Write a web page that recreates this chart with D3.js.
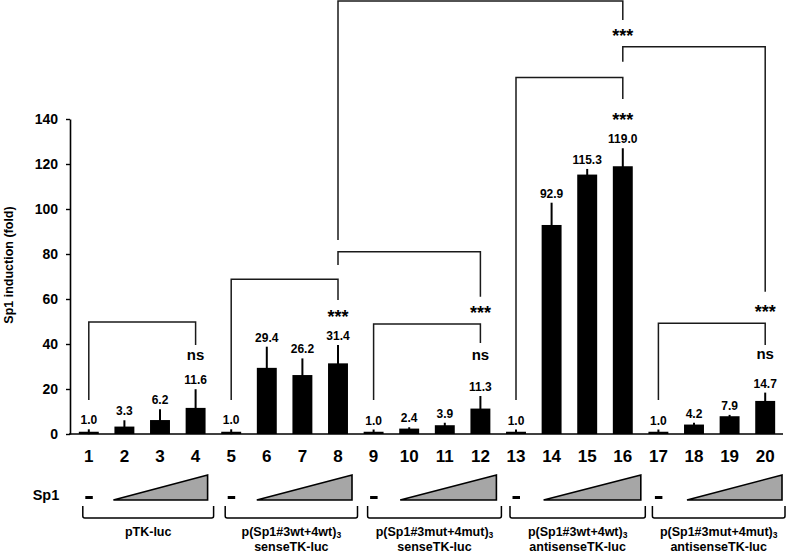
<!DOCTYPE html>
<html>
<head>
<meta charset="utf-8">
<script src="https://cdn.jsdelivr.net/npm/d3@7"></script>
<style>
  body { margin: 0; background: #fff; }
  svg { display: block; font-family: "Liberation Sans", Arial, sans-serif; font-weight: bold; }
</style>
</head>
<body>
<script>
// ---------------- DATA ----------------
const categories = ["1","2","3","4","5","6","7","8","9","10","11","12","13","14","15","16","17","18","19","20"];
const values = [1.0, 3.3, 6.2, 11.6, 1.0, 29.4, 26.2, 31.4, 1.0, 2.4, 3.9, 11.3, 1.0, 92.9, 115.3, 119.0, 1.0, 4.2, 7.9, 14.7];
const errors = [1.1, 2.8, 4.8, 8.3, 1.1, 9.4, 7.4, 8.2, 1.0, 0.6, 1.1, 5.6, 1.0, 9.9, 2.5, 8.0, 1.0, 0.8, 0.6, 3.7];
const yTicks = [0, 20, 40, 60, 80, 100, 120, 140];
const yTitle = "Sp1 induction (fold)";

// significance brackets: from bar, to bar, bracket top value, left end value, right end value, label, label centre value
const brFrom  = ["1", "5", "9", "13", "17", "8", "8", "16"];
const brTo    = ["4", "8", "12", "16", "20", "12", "16", "20"];
const brTop   = [49.8, 68.8, 48.9, 158.4, 49.2, 81.0, 192.4, 172.1];
const brLeft  = [15.1, 15.1, 15.1, 15.1, 15.1, 75.1, 86.2, 165.5];
const brRight = [39.6, 59.6, 40.4, 148.9, 39.6, 61.0, 184.0, 63.2];
const brLabel = ["ns", "***", "ns", "***", "ns", "***", "***", "***"];
const brLabelAt = [34.7, 53.8, 34.7, 141.3, 34.9, 55.6, 178.7, 56.0];

// groups under the axis
const groupFirst = ["1", "5", "9", "13", "17"];
const groupSecond = ["2", "6", "10", "14", "18"];
const groupLast = ["4", "8", "12", "16", "20"];
const groupLine1 = ["pTK-luc", "p(Sp1#3wt+4wt)", "p(Sp1#3mut+4mut)", "p(Sp1#3wt+4wt)", "p(Sp1#3mut+4mut)"];
const groupSub = ["", "3", "3", "3", "3"];
const groupLine2 = ["", "senseTK-luc", "senseTK-luc", "antisenseTK-luc", "antisenseTK-luc"];
const rowLabel = "Sp1";

// ---------------- CHART ----------------
const W = 787, H = 554;
const svg = d3.select("body").append("svg").attr("width", W).attr("height", H);

const x = d3.scaleBand().domain(categories).range([71, 783]).paddingInner(0.44).paddingOuter(0.22);
const cx = c => x(c) + x.bandwidth() / 2;
const y = d3.scaleLinear().domain([0, 140]).range([434, 119]);

// Y axis
const yAxis = svg.append("g").attr("transform", "translate(70,0)")
  .call(d3.axisLeft(y).tickValues(yTicks).tickSize(4).tickSizeOuter(0).tickPadding(8));
yAxis.select(".domain").attr("stroke", "#000").attr("stroke-width", 1.6);
yAxis.selectAll(".tick line").attr("stroke", "#000").attr("stroke-width", 1.4);
yAxis.selectAll("text").attr("font-size", 14).attr("font-weight", "bold")
  .attr("font-family", "'Liberation Sans', Arial, sans-serif").attr("fill", "#000");

svg.append("text")
  .attr("transform", "translate(13,265) rotate(-90)")
  .attr("text-anchor", "middle").attr("font-size", 12.5).attr("fill", "#000")
  .text(yTitle);

// Bars
svg.append("g").selectAll("rect").data(categories).join("rect")
  .attr("x", d => x(d)).attr("width", x.bandwidth())
  .attr("y", (d, i) => y(values[i])).attr("height", (d, i) => y(0) - y(values[i]))
  .attr("fill", "#000");

// Error bars
svg.append("g").selectAll("line").data(categories).join("line")
  .attr("x1", d => cx(d)).attr("x2", d => cx(d))
  .attr("y1", (d, i) => y(values[i] - errors[i])).attr("y2", (d, i) => y(values[i] + errors[i]))
  .attr("stroke", "#000").attr("stroke-width", 2);

// X axis
const xAxis = svg.append("g").attr("transform", `translate(0,${y(0)})`)
  .call(d3.axisBottom(x).tickSize(0).tickSizeOuter(0).tickPadding(16));
xAxis.select(".domain").attr("stroke", "#000").attr("stroke-width", 1.6).attr("d", "M69,0H783");
xAxis.selectAll("text").attr("font-size", 17).attr("font-weight", "bold")
  .attr("font-family", "'Liberation Sans', Arial, sans-serif").attr("fill", "#000");

// Value labels
svg.append("g").selectAll("text").data(categories).join("text")
  .attr("x", d => cx(d)).attr("y", (d, i) => y(values[i] + errors[i]) - 5)
  .attr("text-anchor", "middle").attr("font-size", 12).attr("fill", "#000")
  .text((d, i) => values[i].toFixed(1));

// Significance brackets
const brG = svg.append("g");
brFrom.forEach((f, i) => {
  const t = brTo[i];
  const p = d3.path();
  p.moveTo(cx(f), y(brLeft[i]));
  p.lineTo(cx(f), y(brTop[i]));
  p.lineTo(cx(t), y(brTop[i]));
  p.lineTo(cx(t), y(brRight[i]));
  brG.append("path").attr("d", p.toString()).attr("fill", "none")
    .attr("stroke", "#1a1a1a").attr("stroke-width", 1.5);
  const isStar = brLabel[i] === "***";
  const fs = isStar ? 18 : 15;
  const off = isStar ? 0.56 * fs : 0.26 * fs;
  brG.append("text").attr("x", cx(t)).attr("y", y(brLabelAt[i]) + off)
    .attr("text-anchor", "middle").attr("font-size", fs).attr("fill", "#000")
    .text(brLabel[i]);
});

// Bottom annotation: Sp1 row
svg.append("text").attr("x", 46).attr("y", 500).attr("text-anchor", "middle")
  .attr("font-size", 14.5).attr("fill", "#000").text(rowLabel);

const bot = svg.append("g");
groupFirst.forEach((f, g) => {
  // dash for no Sp1
  bot.append("line").attr("x1", cx(f) - 3.5).attr("x2", cx(f) + 4)
    .attr("y1", 497.5).attr("y2", 497.5).attr("stroke", "#000").attr("stroke-width", 3);
  // increasing amount triangle
  const l = cx(groupSecond[g]) - 11 + g * 1, r = Math.min(cx(groupLast[g]) + 12 + g * 2, 782);
  bot.append("path").attr("d", `M${l},500L${r},475L${r},500Z`)
    .attr("fill", "#a6a6a6").attr("stroke", "#000").attr("stroke-width", 1.6).attr("stroke-linejoin", "miter");
  // brace
  const bl = cx(f) - 6, br = Math.min(cx(groupLast[g]) + 18 + g * 1.5, 785);
  bot.append("path")
    .attr("d", `M${bl},506L${bl},516Q${bl},518 ${bl + 2},518L${br - 2},518Q${br},518 ${br},516L${br},506`)
    .attr("fill", "none").attr("stroke", "#000").attr("stroke-width", 1.5);
  const mid = (bl + br) / 2;
  const t1 = bot.append("text").attr("x", mid).attr("y", 536).attr("text-anchor", "middle")
    .attr("font-size", 12.5).attr("fill", "#000");
  t1.append("tspan").text(groupLine1[g]);
  if (groupSub[g]) t1.append("tspan").attr("font-size", 8.5).attr("dy", 2).text(groupSub[g]);
  if (groupLine2[g]) {
    bot.append("text").attr("x", mid).attr("y", 551).attr("text-anchor", "middle")
      .attr("font-size", 12.5).attr("fill", "#000").text(groupLine2[g]);
  }
});
</script>
</body>
</html>
